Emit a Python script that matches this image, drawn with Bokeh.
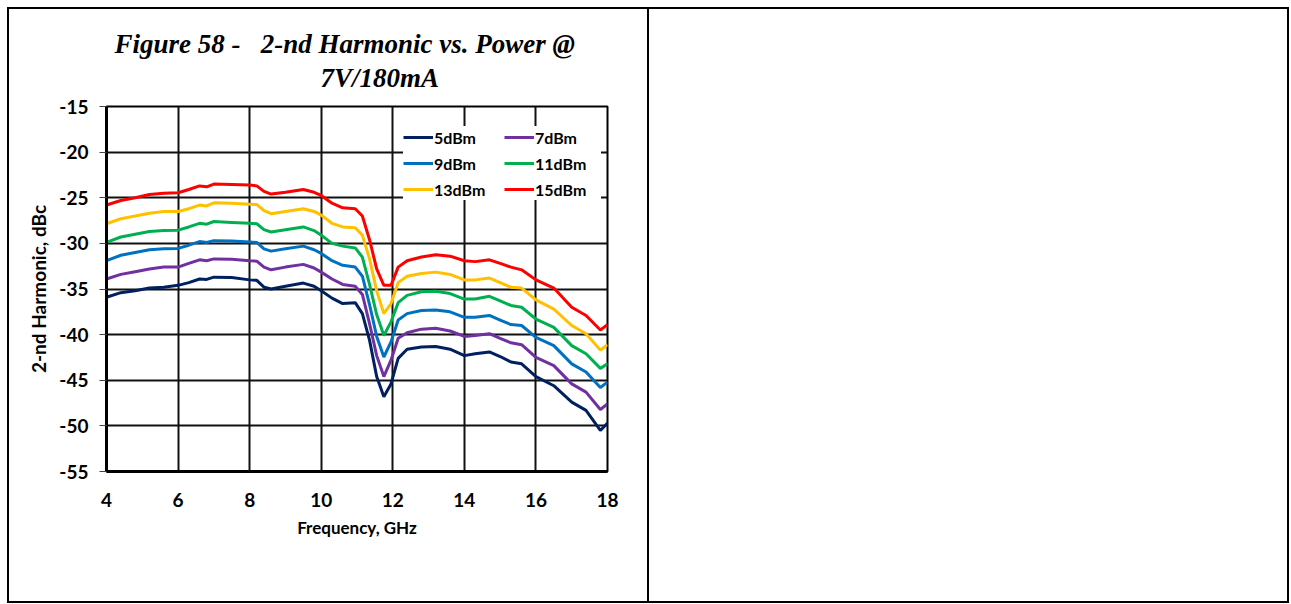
from bokeh.plotting import figure
from bokeh.models import (Range1d, FixedTicker, Legend, LegendItem, Title, Div)
from bokeh.layouts import row
from bokeh.embed import file_html
from bokeh.resources import INLINE

freq_ghz = [4.0, 4.4, 4.8, 5.2, 5.6, 6.0, 6.3, 6.6, 6.8, 7.0, 7.5, 8.0, 8.2, 8.4, 8.6,
            9.0, 9.5, 9.8, 10.0, 10.3, 10.6, 10.95, 11.15, 11.35, 11.55, 11.75, 11.95,
            12.15, 12.4, 12.8, 13.2, 13.6, 14.0, 14.3, 14.7, 15.0, 15.3, 15.6, 16.0,
            16.5, 17.0, 17.4, 17.8, 18.0]

h2_5dbm = [-35.9, -35.4, -35.2, -34.9, -34.8, -34.6, -34.3, -33.9, -33.95, -33.7, -33.75,
           -34.0, -34.05, -34.8, -35.0, -34.7, -34.35, -34.7, -35.2, -36.0, -36.6, -36.5,
           -37.7, -40.6, -44.6, -46.8, -45.4, -42.6, -41.6, -41.35, -41.3, -41.6, -42.3,
           -42.1, -41.9, -42.4, -43.0, -43.2, -44.6, -45.6, -47.4, -48.3, -50.5, -49.7]
h2_7dbm = [-33.9, -33.4, -33.1, -32.8, -32.6, -32.6, -32.2, -31.8, -31.9, -31.7, -31.75,
           -31.9, -31.95, -32.6, -32.9, -32.6, -32.3, -32.7, -33.15, -33.9, -34.5, -34.7,
           -35.6, -38.8, -42.3, -44.6, -42.8, -40.4, -39.8, -39.4, -39.3, -39.6, -40.2,
           -40.1, -39.9, -40.4, -40.9, -41.1, -42.5, -43.4, -45.4, -46.3, -48.2, -47.6]
h2_9dbm = [-31.9, -31.3, -31.0, -30.7, -30.6, -30.55, -30.2, -29.8, -29.9, -29.7, -29.75,
           -29.85, -29.9, -30.6, -30.85, -30.6, -30.3, -30.7, -31.1, -31.9, -32.4, -32.6,
           -33.6, -36.7, -40.2, -42.45, -40.8, -38.4, -37.7, -37.35, -37.3, -37.5, -38.1,
           -38.1, -37.9, -38.4, -38.9, -39.0, -40.3, -41.2, -43.2, -44.1, -45.8, -45.2]
h2_11dbm = [-29.9, -29.3, -29.0, -28.7, -28.6, -28.55, -28.2, -27.8, -27.9, -27.6, -27.7,
            -27.8, -27.85, -28.5, -28.75, -28.5, -28.2, -28.6, -29.1, -30.0, -30.3, -30.5,
            -31.5, -34.5, -37.8, -40.1, -38.6, -36.5, -35.7, -35.3, -35.25, -35.5, -36.1,
            -36.1, -35.8, -36.3, -36.8, -37.0, -38.3, -39.2, -41.2, -42.1, -43.7, -43.2]
h2_13dbm = [-27.85, -27.3, -27.0, -26.7, -26.5, -26.5, -26.2, -25.8, -25.9, -25.55, -25.6,
            -25.7, -25.75, -26.4, -26.75, -26.5, -26.2, -26.5, -26.9, -27.8, -28.2, -28.3,
            -29.1, -31.7, -35.2, -37.7, -36.6, -34.3, -33.6, -33.3, -33.15, -33.4, -34.0,
            -34.0, -33.8, -34.3, -34.8, -34.9, -36.2, -37.2, -39.0, -39.9, -41.7, -41.1]
h2_15dbm = [-25.8, -25.3, -25.0, -24.65, -24.5, -24.45, -24.1, -23.7, -23.8, -23.5, -23.55,
            -23.6, -23.7, -24.3, -24.6, -24.4, -24.1, -24.4, -24.75, -25.6, -26.1, -26.2,
            -27.0, -29.6, -32.8, -34.6, -34.6, -32.6, -31.9, -31.5, -31.25, -31.4, -31.9,
            -32.0, -31.8, -32.2, -32.6, -32.9, -34.0, -34.9, -37.0, -37.9, -39.5, -38.9]

series_names = ["5dBm", "7dBm", "9dBm", "11dBm", "13dBm", "15dBm"]
series_values = [h2_5dbm, h2_7dbm, h2_9dbm, h2_11dbm, h2_13dbm, h2_15dbm]
series_colors = ["#002060", "#7030A0", "#0070C0", "#00B050", "#FFC000", "#FF0000"]

x_ticks = [4, 6, 8, 10, 12, 14, 16, 18]
y_ticks = [-55, -50, -45, -40, -35, -30, -25, -20, -15]
y_tick_labels = ["-55", "-50", "-45", "-40", "-35", "-30", "-25", "-20", "-15"]

title_line1 = "Figure 58 -\u00a0\u00a0 2-nd Harmonic vs. Power @"
title_line2 = "7V/180mA"

FONT = "Lato"

p = figure(width=642, height=596, output_backend="svg", toolbar_location=None,
           x_range=Range1d(4, 18), y_range=Range1d(-55, -15),
           min_border_left=97, min_border_top=97, min_border_right=44,
           min_border_bottom=134, title_location=None,
           background_fill_color="white", border_fill_color="white",
           margin=(7, 0, 0, 7),
           styles={"border": "2px solid black"})

p.outline_line_color = "black"
p.outline_line_width = 2

p.xaxis.ticker = FixedTicker(ticks=x_ticks)
p.yaxis.ticker = FixedTicker(ticks=y_ticks)
p.yaxis.major_label_overrides = {t: s for t, s in zip(y_ticks, y_tick_labels)}
p.xgrid.ticker = FixedTicker(ticks=x_ticks)
p.ygrid.ticker = FixedTicker(ticks=y_ticks)
for g in (p.xgrid, p.ygrid):
    g.grid_line_color = "#111111"
    g.grid_line_width = 2
    g.grid_line_alpha = 1.0

for ax in (p.xaxis, p.yaxis):
    ax.axis_line_color = "black"
    ax.axis_line_width = 3
    ax.major_label_text_font = FONT
    ax.major_label_text_font_style = "bold"
    ax.major_label_text_font_size = "19px"
    ax.major_label_text_color = "black"
    ax.axis_label_text_font = FONT
    ax.axis_label_text_font_style = "bold"
    ax.axis_label_text_color = "black"
    ax.minor_tick_line_color = None
    ax.major_tick_line_color = "#444444"
    ax.major_tick_line_width = 1

p.xaxis.major_tick_out = 0
p.xaxis.major_tick_in = 0
p.xaxis.major_label_standoff = 21
p.xaxis.axis_label = "Frequency, GHz"
p.xaxis.axis_label_text_font_size = "17px"
p.xaxis.axis_label_standoff = 7

p.yaxis.major_tick_out = 7
p.yaxis.major_tick_in = 0
p.yaxis.major_label_standoff = 11
p.yaxis.axis_label = "2-nd Harmonic, dBc"
p.yaxis.axis_label_text_font_size = "19px"
p.yaxis.axis_label_standoff = 6

renderers = []
for name, vals, col in zip(series_names, series_values, series_colors):
    r = p.line(freq_ghz, vals, line_color=col, line_width=3)
    renderers.append((name, r))

items = [LegendItem(label=n, renderers=[r]) for n, r in renderers]
legend = Legend(items=items, location=(297, 271), orientation="horizontal", ncols=2,
                background_fill_color="white", background_fill_alpha=1.0,
                border_line_color=None, label_text_font=FONT,
                label_text_font_style="bold", label_text_font_size="16px",
                label_text_color="black",
                glyph_width=30, glyph_height=22, label_height=22, label_width=66,
                label_standoff=1, spacing=4, padding=3, margin=0)
p.add_layout(legend, "center")

t2 = Title(text=title_line2, align="left", offset=214, standoff=27,
           text_font="Liberation Serif", text_font_style="bold italic",
           text_font_size="27px", text_color="black")
t1 = Title(text=title_line1, align="left", offset=8, standoff=-22,
           text_font="Liberation Serif", text_font_style="bold italic",
           text_font_size="27px", text_color="black")
p.add_layout(t2, "above")
p.add_layout(t1, "above")

right_cell = Div(text="", width=640, height=596, margin=(7, 0, 0, 0),
                 styles={"border-top": "2px solid black", "border-right": "2px solid black",
                         "border-bottom": "2px solid black", "background-color": "white"})

layout = row(p, right_cell, spacing=0)

open("out.html", "w").write(file_html(layout, INLINE))
